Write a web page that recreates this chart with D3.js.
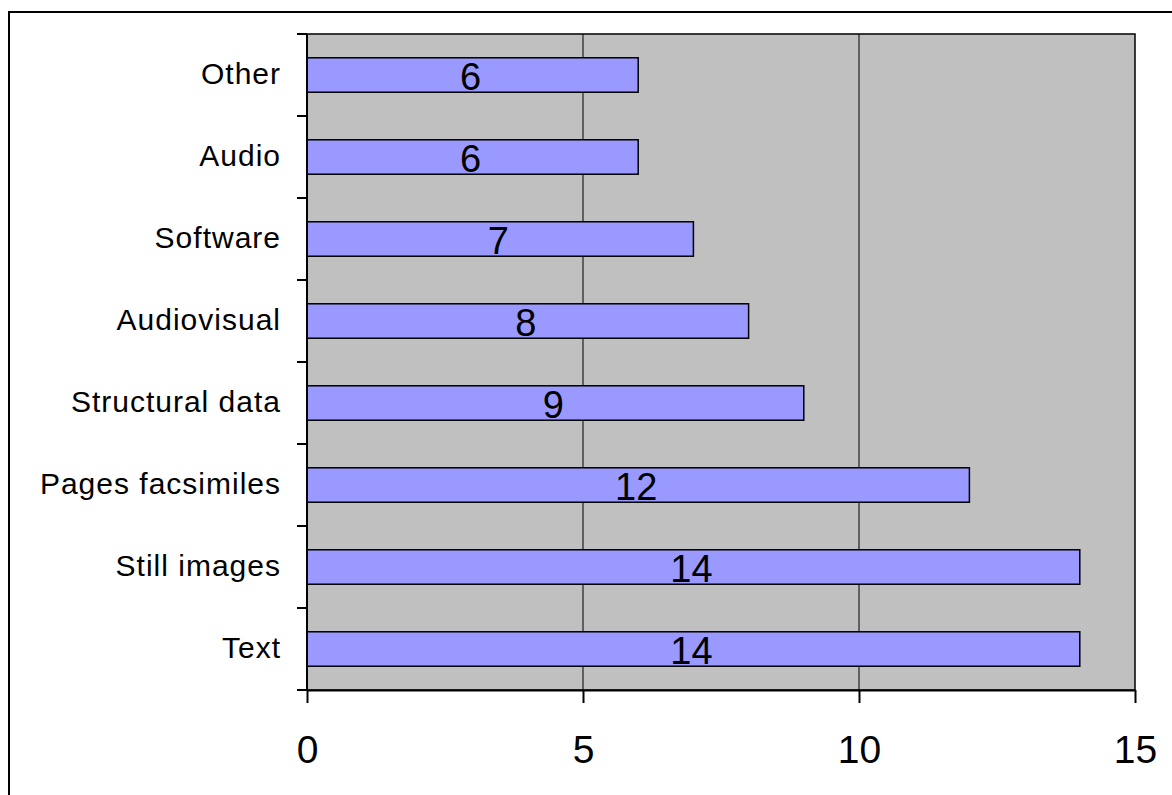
<!DOCTYPE html>
<html>
<head>
<meta charset="utf-8">
<script src="https://cdn.jsdelivr.net/npm/d3@7"></script>
<style>
  body { margin: 0; background: #fff; }
  svg { display: block; font-family: Arial, "Liberation Sans", sans-serif; }
</style>
</head>
<body>
<div id="chart"></div>
<script>
var categories = ["Other", "Audio", "Software", "Audiovisual", "Structural data", "Pages facsimiles", "Still images", "Text"];
var values = [6, 6, 7, 8, 9, 12, 14, 14];
var xTicks = [0, 5, 10, 15];

var width = 1172, height = 795;
var plot = {left: 307, top: 34, right: 1135, bottom: 690};

var svg = d3.select("#chart")
    .append("svg")
    .attr("width", width)
    .attr("height", height);

// outer frame runs off the right and bottom edge
svg.append("rect")
    .attr("x", 9)
    .attr("y", 12)
    .attr("width", width + 20)
    .attr("height", height + 20)
    .attr("fill", "none")
    .attr("stroke", "#000")
    .attr("stroke-width", 2);

var x = d3.scaleLinear()
    .domain([0, 15])
    .range([plot.left, plot.right]);

var yb = d3.scaleBand()
    .domain(categories)
    .range([plot.top, plot.bottom]);

var y = d3.scaleBand()
    .domain(categories)
    .range([plot.top, plot.bottom])
    .paddingInner(0.58)
    .paddingOuter(0.29);

// plot background
svg.append("rect")
    .attr("x", x(0))
    .attr("y", plot.top)
    .attr("width", x(15) - x(0))
    .attr("height", plot.bottom - plot.top)
    .attr("fill", "#c0c0c0")
    .attr("stroke", "#000")
    .attr("stroke-width", 1.5);

// gridlines
svg.selectAll(".grid")
    .data(xTicks.filter(function(d) { return d > 0 && d < 15; }))
    .enter()
    .append("line")
    .attr("x1", function(d) { return x(d); })
    .attr("x2", function(d) { return x(d); })
    .attr("y1", plot.top)
    .attr("y2", plot.bottom)
    .attr("stroke", "#000")
    .attr("stroke-width", 1);

// bars
svg.selectAll(".bar")
    .data(values)
    .enter()
    .append("rect")
    .attr("x", x(0))
    .attr("y", function(d, i) { return y(categories[i]); })
    .attr("width", function(d) { return x(d) - x(0); })
    .attr("height", y.bandwidth())
    .attr("fill", "#9999ff")
    .attr("stroke", "#000")
    .attr("stroke-width", 1.5);

// value labels
svg.selectAll(".val")
    .data(values)
    .enter()
    .append("text")
    .attr("x", function(d) { return (x(0) + x(d)) / 2 - 2; })
    .attr("y", function(d, i) { return yb(categories[i]) + yb.bandwidth() / 2 + 15; })
    .attr("text-anchor", "middle")
    .attr("font-size", 38)
    .attr("fill", "#000")
    .text(function(d) { return d; });

// y axis line and boundary ticks
svg.append("line")
    .attr("x1", x(0)).attr("x2", x(0))
    .attr("y1", plot.top).attr("y2", plot.bottom)
    .attr("stroke", "#000").attr("stroke-width", 2);

var bounds = d3.range(categories.length + 1).map(function(i) {
    return yb.range()[0] + i * yb.step();
});
svg.selectAll(".ytick")
    .data(bounds)
    .enter()
    .append("line")
    .attr("x1", x(0) - 10)
    .attr("x2", x(0))
    .attr("y1", function(d) { return d; })
    .attr("y2", function(d) { return d; })
    .attr("stroke", "#000")
    .attr("stroke-width", 2);

svg.selectAll(".cat")
    .data(categories)
    .enter()
    .append("text")
    .attr("x", x(0) - 26)
    .attr("y", function(d) { return yb(d) + yb.bandwidth() / 2 + 9; })
    .attr("text-anchor", "end")
    .attr("font-size", 30)
    .attr("letter-spacing", 1)
    .attr("fill", "#000")
    .text(function(d) { return d; });

// x axis
var xAxis = svg.append("g")
    .attr("transform", "translate(0," + plot.bottom + ")")
    .call(d3.axisBottom(x).tickValues(xTicks).tickSize(13).tickSizeOuter(0));

xAxis.select(".domain")
    .attr("stroke", "#000")
    .attr("stroke-width", 2);
xAxis.selectAll(".tick line")
    .attr("stroke", "#000")
    .attr("stroke-width", 2);
xAxis.selectAll(".tick text")
    .attr("y", 73)
    .attr("dy", 0)
    .attr("font-size", 39)
    .attr("font-family", "Arial, 'Liberation Sans', sans-serif")
    .attr("fill", "#000");
</script>
</body>
</html>
